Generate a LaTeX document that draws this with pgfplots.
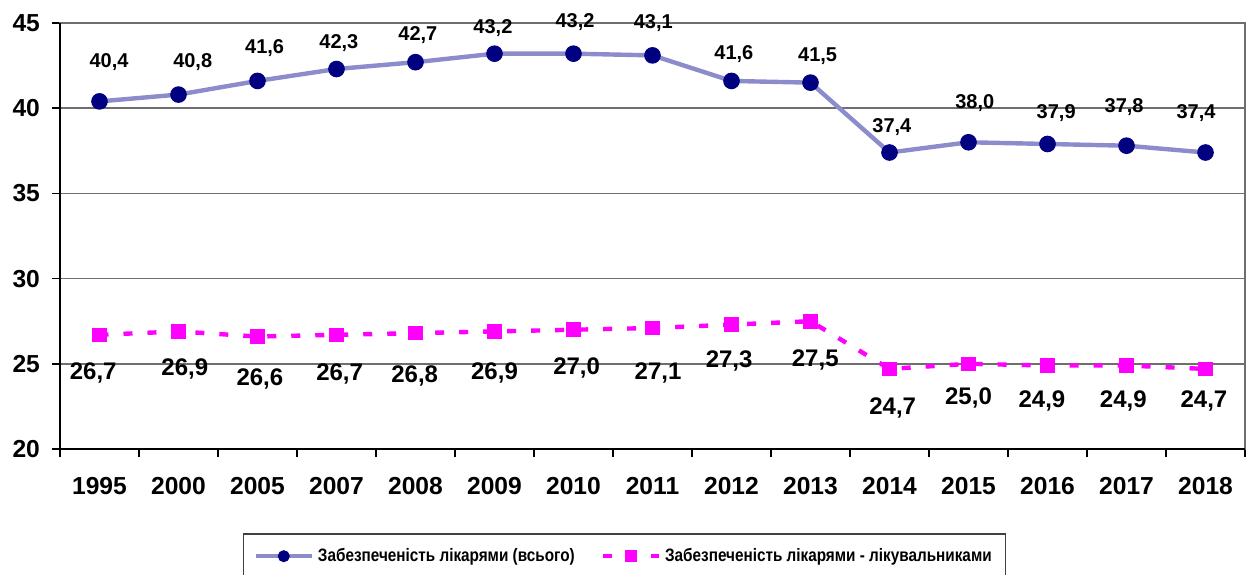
\documentclass[border=0pt]{standalone}
\usepackage{fontspec}
\setmainfont{Liberation Sans}
\newfontfamily\legfont[FakeStretch=0.85]{Liberation Sans}
\usepackage{pgfplots}
\usepackage{pgfplotstable}
\pgfplotsset{compat=1.18}
\definecolor{lav}{RGB}{140,140,205}
\definecolor{navyc}{RGB}{0,0,128}
\definecolor{mag}{RGB}{255,0,255}
\definecolor{gridc}{RGB}{110,110,110}

% series values
\pgfplotstableread{
x y
0 40.4
1 40.8
2 41.6
3 42.3
4 42.7
5 43.2
6 43.2
7 43.1
8 41.6
9 41.5
10 37.4
11 38.0
12 37.9
13 37.8
14 37.4
}\bluedata

\pgfplotstableread{
x y
0 26.7
1 26.9
2 26.6
3 26.7
4 26.8
5 26.9
6 27.0
7 27.1
8 27.3
9 27.5
10 24.7
11 25.0
12 24.9
13 24.9
14 24.7
}\pinkdata

% data label positions (as placed in the reference)
\pgfplotstableread{
x y lab
0.12 42.71 40,4
1.18 42.71 40,8
2.09 43.53 41,6
3.03 43.83 42,3
4.03 44.30 42,7
4.98 44.71 43,2
6.02 45.06 43,2
7.01 45.00 43,1
8.03 43.18 41,6
9.09 43.06 41,5
10.03 38.90 37,4
11.08 40.31 38,0
12.11 39.72 37,9
12.97 40.07 37,8
13.88 39.72 37,4
}\bluelabels

\pgfplotstableread{
x y lab
-0.08 24.46 26,7
1.08 24.69 26,9
2.03 24.11 26,6
3.04 24.40 26,7
3.99 24.28 26,8
5.00 24.46 26,9
6.04 24.75 27,0
7.07 24.46 27,1
7.97 25.16 27,3
9.06 25.22 27,5
10.04 22.41 24,7
11.00 22.99 25,0
11.93 22.82 24,9
12.96 22.82 24,9
13.98 22.82 24,7
}\pinklabels

\begin{document}
\begin{tikzpicture}
\useasboundingbox (-30pt,-62.5pt) rectangle (593.5pt,224.5pt);
\begin{axis}[
  at={(0pt,0pt)}, anchor=south west,
  scale only axis, width=592.5pt, height=213pt,
  xmin=-0.5, xmax=14.5, ymin=20, ymax=45,
  xtick={0,...,14},
  xticklabels={1995,2000,2005,2007,2008,2009,2010,2011,2012,2013,2014,2015,2016,2017,2018},
  minor xtick={-0.5,0.5,...,14.5},
  ytick={20,25,...,45},
  minor ytick={20,25,...,45},
  tick align=outside, tick pos=left,
  major tick length=0pt, minor tick length=4pt,
  minor tick style={black, line width=0.75pt},
  ymajorgrids,
  major grid style={gridc, line width=0.75pt},
  axis line style={gridc, line width=0.75pt},
  /pgf/number format/assume math mode=true,
  tick label style={font=\bfseries\fontsize{12.3}{14}\selectfont, black},
  x tick label style={yshift=-10.5pt},
  y tick label style={xshift=-6.5pt},
  clip=false,
  legend columns=2,
  legend cell align=left,
  legend style={at={(0.4765,-0.198)}, anchor=north, draw=black!75, line width=0.75pt,
    font=\legfont\bfseries\fontsize{9}{11}\selectfont, inner xsep=5pt, inner ysep=5pt,
    /tikz/every even column/.append style={column sep=11pt}},
  legend image code/.code={\draw[mark repeat=2,mark phase=2,#1,mark size=2.75pt] plot coordinates {(0pt,0pt) (14pt,0pt) (28pt,0pt)};},
]
\draw[black, line width=0.75pt] (rel axis cs:0,1) -- (rel axis cs:0,0) -- (rel axis cs:1,0);

\addplot[color=lav, line width=2.2pt, mark=*, mark size=3.9pt,
  mark options={draw=navyc, fill=navyc, solid, line width=0.5pt}]
  table[x=x, y=y]{\bluedata};
\addlegendentry{Забезпеченість лікарями (всього)}

\addplot[color=mag, line width=2.2pt, dash pattern=on 4.5pt off 7.5pt, mark=square*, mark size=3.4pt,
  mark options={draw=mag, fill=mag, solid, line width=0.5pt}]
  table[x=x, y=y]{\pinkdata};
\addlegendentry{Забезпеченість лікарями - лікувальниками}

\addplot[forget plot, only marks, mark=none, nodes near coords, point meta=explicit symbolic,
  every node near coord/.append style={anchor=center, inner sep=0pt,
    font=\bfseries\fontsize{10}{12}\selectfont, text=black}]
  table[x=x, y=y, meta=lab]{\bluelabels};

\addplot[forget plot, only marks, mark=none, nodes near coords, point meta=explicit symbolic,
  every node near coord/.append style={anchor=center, inner sep=0pt,
    font=\bfseries\fontsize{12}{14}\selectfont, text=black}]
  table[x=x, y=y, meta=lab]{\pinklabels};
\end{axis}
\end{tikzpicture}
\end{document}
